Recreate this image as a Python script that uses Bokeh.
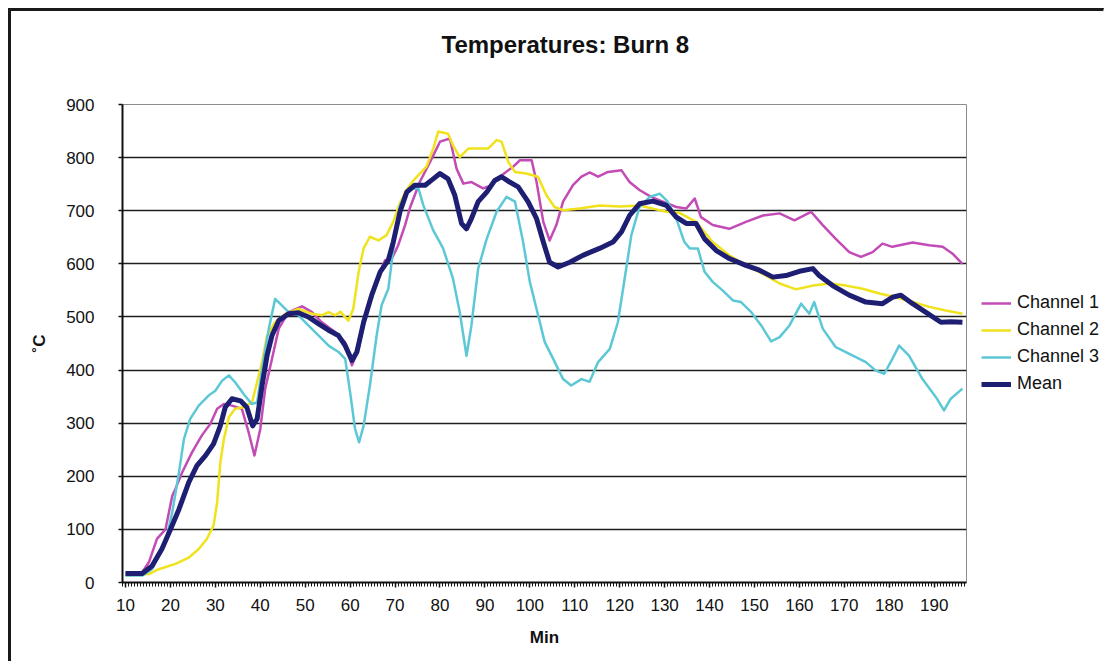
import numpy as np
from bokeh.plotting import figure
from bokeh.models import Range1d, FixedTicker, Legend, LegendItem, Title
from bokeh.embed import file_html
from bokeh.resources import INLINE

# ---- data (minutes, degrees C) ----
t_ch1 = [10, 13.7, 15.2, 17, 18.9, 20.4, 21.1, 22.6, 24.8, 27, 28.9, 30.4, 31.9, 33.7, 35.9,
         37.4, 38.7, 40, 41.1, 42.6, 44.1, 46.3, 49.3, 51.5, 53.7, 56.7, 58.9, 60.4, 61.9,
         64.1, 66.3, 67.8, 69.3, 70.7, 72.2, 73.3, 75.5, 77.8, 80, 82.2, 83.7, 85.2, 87, 89.6,
         91.5, 93.3, 96.3, 97.8, 100.4, 101.5, 103, 104.4, 105.9, 107.4, 109.6, 111.5, 113.3,
         115.2, 117.4, 120.4, 122.2, 124.4, 127, 129.6, 132.6, 134.8, 136.7, 138.1, 140.7,
         144.4, 148.1, 151.9, 155.6, 158.9, 162.6, 165.2, 168.1, 171.1, 173.7, 176.3, 178.5,
         180.7, 185.2, 188.9, 191.9, 194.1, 196.3]
v_ch1 = [17, 19, 38, 82, 100, 163, 176, 207, 245, 277, 299, 327, 336, 333, 327,
         283, 239, 289, 365, 421, 478, 509, 520, 509, 490, 471, 452, 409, 440,
         528, 578, 607, 610, 635, 672, 705, 754, 792, 830, 836, 779, 751, 754, 742,
         748, 764, 783, 795, 795, 754, 679, 644, 673, 717, 748, 764, 772,
         764, 773, 776, 754, 739, 726, 717, 707, 704, 723, 688, 673,
         666, 679, 691, 695, 682, 698, 673, 647, 622, 613, 622, 638,
         632, 640, 635, 632, 619, 600]

t_ch2 = [10, 15.2, 17.4, 21.1, 24.1, 26.3, 28.1, 29.6, 30.4, 31.1, 31.9, 33, 34.4, 36.3,
         38.2, 40.4, 41.5, 43.3, 45.6, 48.5, 51.5, 53.7, 55.2, 56.7, 57.8, 59.6, 60.7, 61.9,
         63, 64.4, 66.3, 68.1, 69.6, 71.1, 72.6, 74.1, 77, 78.5, 79.6, 81.8, 82.9, 84.4, 86.3,
         88.1, 90.7, 92.6, 93.7, 95.2, 96.7, 99.2, 101.8, 103.7, 105.5, 107.4, 111.1, 115.5,
         120, 124.4, 127.4, 130.4, 133.3, 137, 140.7, 144.4, 148.1, 151.9, 155.6, 159.3, 163,
         166.7, 170.4, 174.1, 177.8, 181.5, 185.2, 188.9, 192.6, 196.3]
v_ch2 = [13, 16, 25, 35, 47, 63, 82, 107, 151, 226, 270, 311, 327, 330,
         340, 415, 465, 490, 506, 515, 506, 503, 509, 503, 510, 493, 515, 585,
         629, 651, 644, 654, 679, 715, 740, 757, 783, 817, 849, 845, 823, 801, 817,
         817, 817, 833, 830, 792, 773, 770, 764, 729, 707, 701, 704, 710,
         708, 710, 704, 698, 696, 679, 641, 616, 597, 581, 563, 552, 559,
         563, 559, 553, 544, 537, 528, 519, 512, 506]

t_ch3 = [10, 13.7, 15.9, 18.9, 20.4, 21.9, 23, 24.4, 26.3, 28.5, 30, 31.5, 33, 34.4, 36.3,
         38.1, 39.3, 40.4, 41.9, 43.3, 44.4, 46.3, 48.5, 50.7, 53, 55.2, 57.4, 58.9, 60,
         61.1, 62, 63, 64.4, 65.9, 67, 68.5, 70, 71.1, 73, 75.2, 76.3, 78.5, 80.7, 82.9,
         84.4, 85.9, 87, 88.5, 90.4, 92.6, 94.8, 96.7, 98.5, 100, 101.5, 103.3, 105.2,
         107.4, 109.2, 111.5, 113.3, 115.2, 117.8, 119.6, 121.1, 122.6, 124.4, 126.7,
         128.9, 130.7, 132.6, 134.4, 135.6, 137.4, 138.9, 140.7, 142.9, 145.2, 147, 149.3,
         151.5, 153.7, 155.6, 157.8, 160.4, 162.2, 163.3, 165.2, 168.1, 171.9, 174.8, 177,
         178.9, 180.7, 182.2, 184.4, 187.4, 190.4, 192.2, 193.7, 196.3]
v_ch3 = [13, 13, 25, 75, 132, 207, 270, 308, 333, 352, 361, 380, 390, 377, 355,
         336, 339, 402, 478, 534, 525, 509, 503, 484, 465, 446, 434, 421, 358,
         289, 264, 295, 371, 465, 522, 553, 654, 710, 742, 742, 710, 663, 629, 572,
         509, 427, 484, 591, 647, 698, 726, 717, 641, 566, 515, 453, 421,
         383, 371, 383, 378, 415, 440, 490, 572, 654, 707, 726,
         732, 717, 685, 641, 629, 629, 585, 566, 550, 531, 528, 509,
         484, 454, 462, 484, 525, 506, 528, 478, 443, 427, 415, 399,
         393, 421, 446, 427, 383, 349, 324, 346, 365]

t_mean = [10, 13.7, 15.9, 18.1, 20, 21.9, 24.1, 25.9, 27.8, 29.6, 31.1, 32.2, 33.7, 35.6,
          37, 38.3, 39.3, 40.4, 41.5, 42.6, 44.1, 46.3, 48.5, 50.7, 53, 55.2, 57.4, 58.9,
          60.4, 61.5, 63, 64.8, 66.7, 68.5, 69.6, 71.1, 72.6, 74.4, 76.7, 78.5, 80, 81.8,
          83.3, 84.8, 85.9, 87, 88.5, 90.4, 92.2, 93.7, 95.5, 97.4, 99.6, 101.5, 103, 104.4,
          106.3, 108.9, 111.8, 115.5, 118.5, 120.4, 122.2, 124.4, 127.4, 130.4, 132.6,
          134.8, 137, 138.9, 141.5, 144.4, 148.1, 151.1, 154.1, 157, 160, 163, 164.4, 167.4,
          171.1, 174.8, 178.5, 180.7, 182.6, 185.2, 188.1, 191.5, 193.7, 196.3]
v_mean = [17, 17, 31, 63, 100, 138, 189, 220, 239, 261, 295, 330, 346, 342,
          330, 295, 308, 371, 427, 465, 493, 506, 508, 500, 487, 475, 465, 446,
          418, 434, 490, 541, 585, 607, 641, 698, 735, 748, 748, 760, 770, 760,
          729, 676, 666, 685, 717, 735, 757, 764, 754, 745, 717, 685, 641, 603,
          594, 603, 616, 629, 641, 660, 691, 713, 718, 710, 688,
          676, 676, 647, 625, 610, 597, 588, 575, 578, 586, 591, 578, 559,
          541, 528, 525, 537, 541, 525, 509, 490, 491, 490]

series_names = ["Channel 1", "Channel 2", "Channel 3", "Mean"]
x_tick_values = list(range(10, 200, 10))
y_tick_values = list(range(0, 1000, 100))

FONT = "Liberation Sans"
W, H = 1096, 650

p = figure(width=W, height=H, output_backend="svg", toolbar_location=None,
           x_range=Range1d(9.33, 197.2), y_range=Range1d(0, 900),
           frame_width=844, frame_height=478,
           min_border_left=111, min_border_right=141, min_border_top=93,
           min_border_bottom=79, background_fill_color="white",
           border_fill_color="white")
p.styles = {"margin-left": "8px", "margin-top": "8px",
            "border-top": "3px solid #1a1a1a", "border-left": "3px solid #1a1a1a",
            "border-right": "1px solid #d4d4d4", "width": "1096px"}

# main title (outermost panel)
p.title.text = "Temperatures: Burn 8"
p.title.align = "left"
p.title.offset = 319
p.title.standoff = 10
p.title.text_font = FONT
p.title.text_font_size = "24px"
p.title.text_font_style = "bold"
p.title.text_color = "#111111"

# spacer between frame and title
p.add_layout(Title(text=" ", text_font_size="2px", standoff=38), "above")

p.outline_line_color = "#8c8c8c"
p.outline_line_width = 1

minor = list(np.arange(9.33, 197.3, 2.0 / 3.0))
p.xaxis.ticker = FixedTicker(ticks=x_tick_values, minor_ticks=minor)
p.xaxis.major_tick_out = 5
p.xaxis.major_tick_in = 0
p.xaxis.minor_tick_out = 4
p.xaxis.minor_tick_in = 0
p.xaxis.major_label_standoff = 11
p.xaxis.axis_label = "Min"
p.xaxis.axis_label_standoff = 14

p.yaxis.ticker = FixedTicker(ticks=y_tick_values)
p.yaxis.major_tick_out = 4
p.yaxis.major_tick_in = 0
p.yaxis.minor_tick_line_color = None
p.yaxis.major_label_standoff = 24
p.yaxis.axis_label = "˚C"
p.yaxis.axis_label_standoff = 14

for ax in (p.xaxis, p.yaxis):
    ax.axis_line_color = "#111111"
    ax.axis_line_width = 2
    ax.major_tick_line_color = "#111111"
    ax.major_tick_line_width = 1.5
    ax.major_label_text_font = FONT
    ax.major_label_text_font_size = "17px"
    ax.major_label_text_color = "#111111"
    ax.axis_label_text_font = FONT
    ax.axis_label_text_font_size = "17px"
    ax.axis_label_text_font_style = "bold"
    ax.axis_label_text_color = "#111111"
p.xaxis.minor_tick_line_color = "#111111"

p.xgrid.grid_line_color = None
p.ygrid.ticker = FixedTicker(ticks=y_tick_values[1:-1])
p.ygrid.grid_line_color = "#1e1e1e"
p.ygrid.grid_line_width = 1.5

r1 = p.line(t_ch1, v_ch1, line_color="#C24BB6", line_width=2.5, line_join="round")
r2 = p.line(t_ch2, v_ch2, line_color="#F0E21C", line_width=2.5, line_join="round")
r3 = p.line(t_ch3, v_ch3, line_color="#5CC8D6", line_width=2.5, line_join="round")
r4 = p.line(t_mean, v_mean, line_color="#1E1F72", line_width=5, line_join="round")

legend = Legend(items=[LegendItem(label=n, renderers=[r]) for n, r in
                       zip(series_names, [r1, r2, r3, r4])],
                location="center_left", margin=15, padding=7,
                border_line_color=None, background_fill_alpha=0,
                glyph_width=30, glyph_height=20, label_height=20, spacing=6,
                label_standoff=6, label_text_font=FONT,
                label_text_font_size="18px", label_text_color="#111111")
p.add_layout(legend, "right")

open("out.html", "w").write(file_html(p, INLINE))
